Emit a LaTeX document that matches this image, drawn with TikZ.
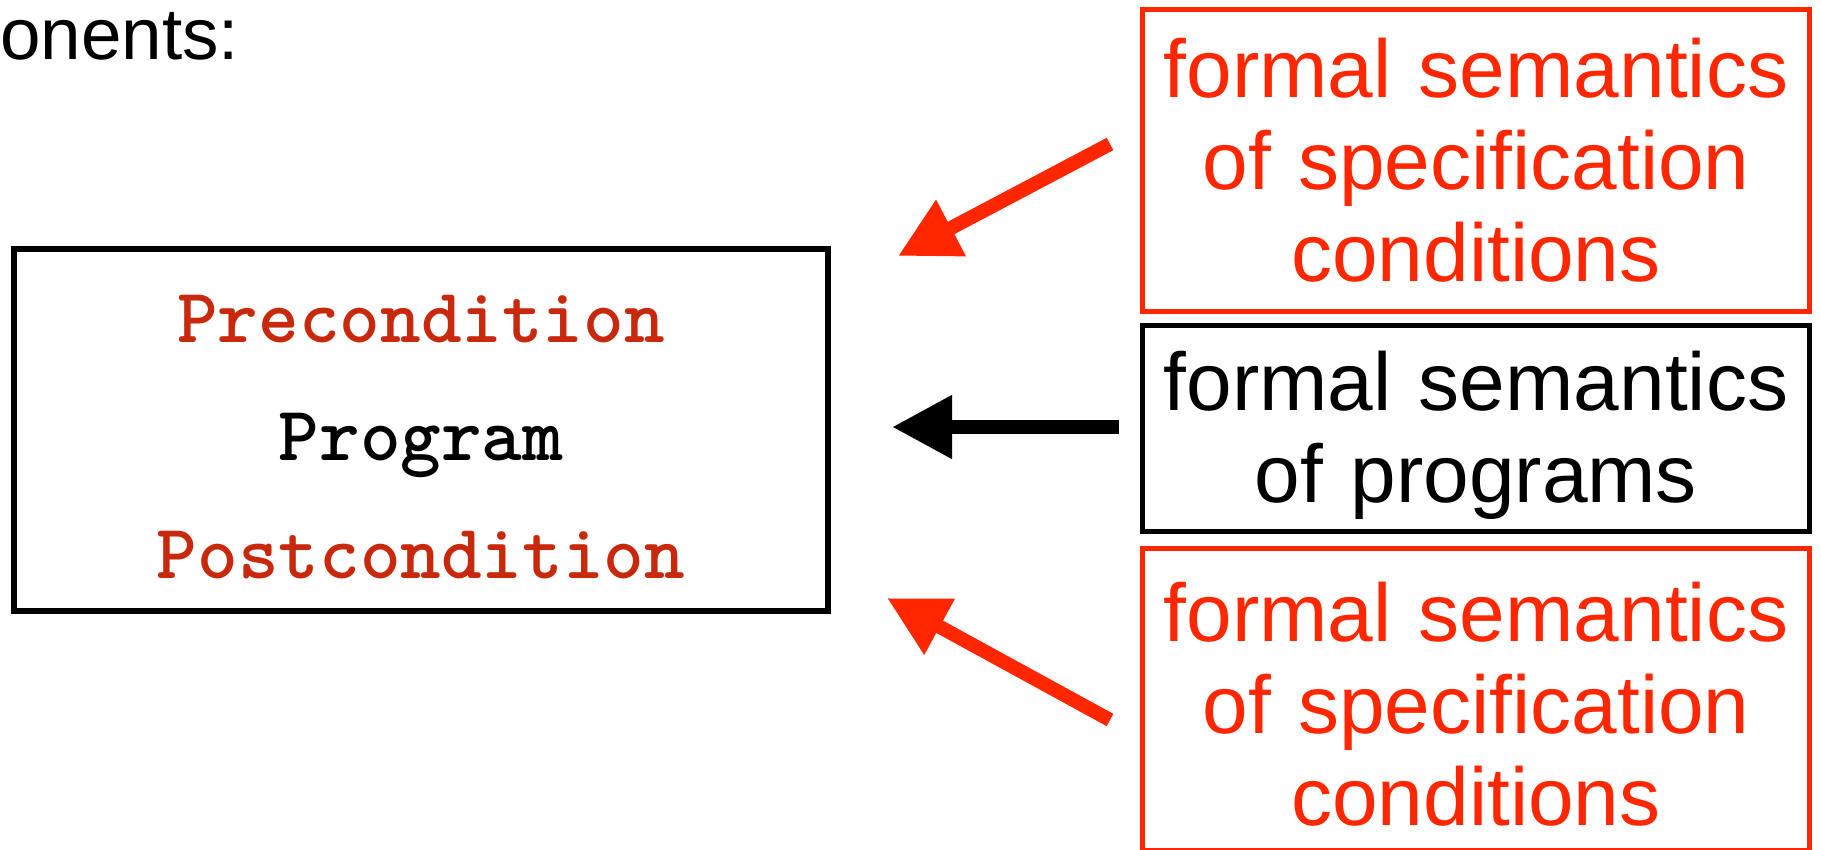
\documentclass[tikz,border=0pt]{standalone}
\usepackage{fontspec}
\setmainfont{Liberation Sans}
\usetikzlibrary{arrows.meta}
\definecolor{specred}{RGB}{255,38,0}
\definecolor{condred}{RGB}{200,40,12}
\newcommand\toppad[1]{\rule{0pt}{#1}}
\tikzset{
  specbox/.style={draw=specred, text=specred, line width=2.5pt, text width=333.5pt, align=center,
    minimum height=151pt, inner sep=0pt, font=\fontsize{41}{46}\selectfont},
  progbox/.style={draw=black, line width=2.5pt, text width=333.5pt, align=center,
    minimum height=103pt, inner sep=0pt, font=\fontsize{41}{46}\selectfont},
  triplebox/.style={draw=black, line width=3pt, minimum width=407pt, minimum height=181pt,
    align=center, inner sep=0pt, font=\ttfamily\bfseries\fontsize{38.7}{59}\selectfont},
  bigarrow/.style={line width=7pt, -{Triangle[length=30pt,width=30pt]}},
}
\begin{document}
\begin{tikzpicture}[x=0.5pt,y=-0.5pt]
            \useasboundingbox (0,0) rectangle (1821,850);

            % 左上角被截断的标题
            \node[anchor=base west, inner sep=0pt, font=\fontsize{36.4}{40}\selectfont] (title) at (0,60) {onents:};

            % 左边的三元组
            \node[triplebox] (triple) at (421,430)
                {\toppad{31pt}\textcolor{condred}{Precondition}\\Program\\\textcolor{condred}{Postcondition}};

            % 右边的三个框
            \node[specbox] (prespec) at (1476,160.5) {formal semantics\\of specification\\conditions};
            \node[progbox] (progsem) at (1476,428.5) {\toppad{37pt}formal semantics\\of programs};
            \node[specbox] (postspec) at (1476,699.5) {\toppad{34.5pt}formal semantics\\of specification\\conditions};

            % 箭头的端点
            \coordinate (pretail) at (1110,144);
            \coordinate (pretip) at (898,256);
            \coordinate (progtail) at (1119,427);
            \coordinate (progtip) at (892,427);
            \coordinate (posttail) at (1110,720);
            \coordinate (posttip) at (887,598);

            \draw[bigarrow, specred] (pretail) -- (pretip);
            \draw[bigarrow] (progtail) -- (progtip);
            \draw[bigarrow, specred] (posttail) -- (posttip);
        \end{tikzpicture}
\end{document}
